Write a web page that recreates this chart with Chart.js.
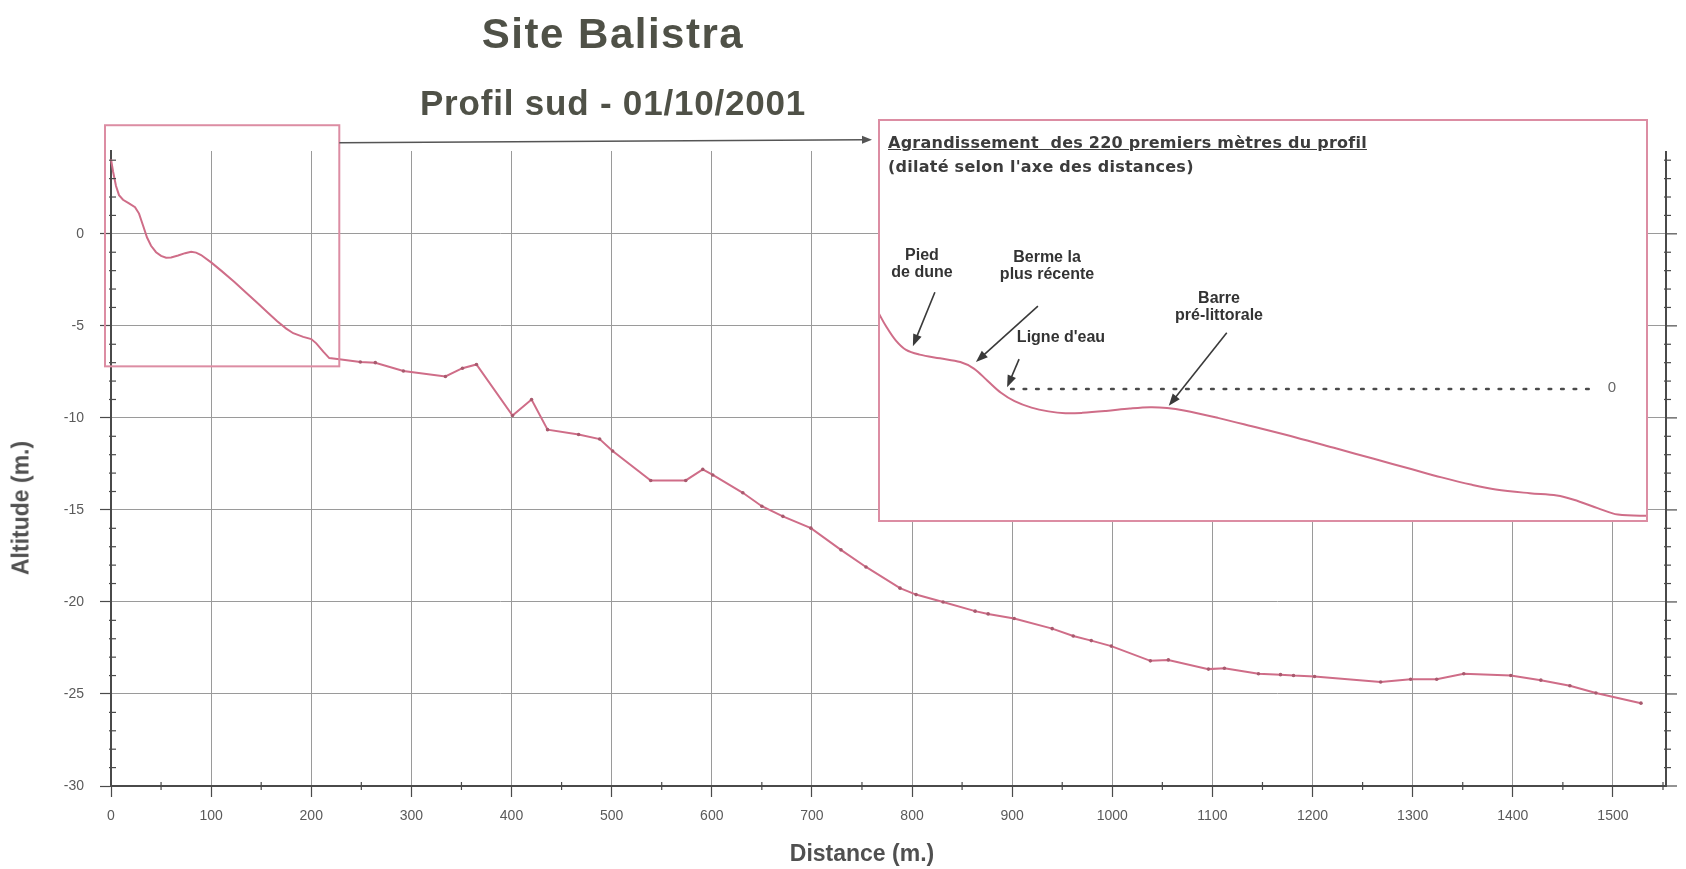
<!DOCTYPE html>
<html>
<head>
<meta charset="utf-8">
<script src="https://cdn.jsdelivr.net/npm/chart.js@4.4.1/dist/chart.umd.min.js"></script>
<style>
  html, body { margin: 0; padding: 0; background: #ffffff; }
  #wrap { position: relative; width: 1686px; height: 869px; overflow: hidden; background: #fff; }
  #main { position: absolute; left: 0; top: 0; }
  .t { position: absolute; white-space: nowrap; font-family: "Liberation Sans", Arial, sans-serif; font-weight: bold; }
  #title { left: 613px; top: 13px; font-size: 42px; line-height: 42px; letter-spacing: 1.5px; color: #4f5147; transform: translateX(-50%); }
  #subtitle { left: 613px; top: 85px; font-size: 35px; line-height: 35px; letter-spacing: 0.8px; color: #4f5147; transform: translateX(-50%); }
  #xtitle { left: 862px; top: 842px; font-size: 23px; line-height: 23px; color: #505050; transform: translateX(-50%); }
  #ytitle { left: 21px; top: 508px; font-size: 23px; line-height: 23px; color: #505050; transform: translate(-50%, -50%) rotate(-90deg); }
  #inset { position: absolute; left: 878px; top: 119px; width: 770px; height: 403px; box-sizing: border-box; border: 2px solid #dc8da3; background: #fff; }
  #insetCanvas { position: absolute; left: 0; top: 0; }
  .it { position: absolute; white-space: nowrap; font-family: "DejaVu Sans", sans-serif; font-weight: bold; font-size: 16px; line-height: 16px; color: #3c3c3c; letter-spacing: 0.25px; }
  .an { position: absolute; white-space: nowrap; font-family: "Liberation Sans", Arial, sans-serif; font-weight: bold; font-size: 16px; line-height: 17px; color: #333; text-align: center; transform: translateX(-50%); }
  #zero { position: absolute; font-family: "Liberation Sans", Arial, sans-serif; font-size: 15px; line-height: 16px; color: #666; transform: translateX(-50%); }
</style>
</head>
<body>
<div id="wrap">
  <canvas id="main" width="1686" height="869"></canvas>
  <div id="title" class="t">Site Balistra</div>
  <div id="subtitle" class="t">Profil sud - 01/10/2001</div>
  <div id="xtitle" class="t">Distance (m.)</div>
  <div id="ytitle" class="t">Altitude (m.)</div>
  <div id="inset">
    <canvas id="insetCanvas" width="766" height="399"></canvas>
    <div class="it" style="left:8px; top:14px; text-decoration: underline;">Agrandissement&nbsp; des 220 premiers mètres du profil</div>
    <div class="it" style="left:8px; top:38px;">(dilaté selon l'axe des distances)</div>
    <div class="an" style="left:42px; top:125px;">Pied<br>de dune</div>
    <div class="an" style="left:167px; top:127px;">Berme la<br>plus récente</div>
    <div class="an" style="left:181px; top:207px;">Ligne d'eau</div>
    <div class="an" style="left:339px; top:168px;">Barre<br>pré-littorale</div>
    <div id="zero" style="left:732px; top:258px;">0</div>
  </div>
</div>
<script>
const distances = [0,2,5,8,12,18,24,28,32,36,40,45,50,55,60,67,74,80,85,90,100,110,123,135,146,157,166,175,182,192,200,205,212,218,228,249,264,292,334,351,365,401,420,436,467,488,501,539,574,591,601,631,650,671,699,729,754,788,804,831,863,876,902,940,961,979,999,1038,1056,1096,1112,1146,1168,1181,1202,1268,1298,1324,1351,1398,1428,1457,1483,1528];
const altitudes = [4.05,3.4,2.6,2.1,1.85,1.65,1.45,1.1,0.45,-0.2,-0.65,-1.0,-1.2,-1.3,-1.28,-1.18,-1.05,-0.98,-1.02,-1.15,-1.55,-2.0,-2.6,-3.2,-3.75,-4.3,-4.75,-5.15,-5.4,-5.6,-5.72,-5.95,-6.4,-6.75,-6.82,-6.96,-7.0,-7.45,-7.75,-7.3,-7.1,-9.87,-9.0,-10.64,-10.9,-11.15,-11.8,-13.4,-13.4,-12.8,-13.1,-14.07,-14.8,-15.35,-15.99,-17.17,-18.1,-19.25,-19.6,-20.0,-20.5,-20.65,-20.9,-21.45,-21.85,-22.1,-22.4,-23.2,-23.15,-23.65,-23.6,-23.9,-23.95,-24.0,-24.05,-24.35,-24.2,-24.2,-23.9,-24.0,-24.25,-24.55,-24.95,-25.5];
const xRange = [0, 1553];
const yRange = [-30, 4.5];
const zoomLimit = 228;          // first metres shown in the inset
const waterLevel = [39, 210];   // extent of the dotted "0" line (distance)
const zoomBox = { x: [-6, 228], y: [-7.2, 5.9] };

const LINE = '#cf6d88';
const BOX = '#dc8da3';
const AXIS = '#4a4a4a';
const GRID = '#9a9a9a';

const points = distances.map((d, i) => ({ x: d, y: altitudes[i] }));

function arrow(ctx, x1, y1, x2, y2, head, w) {
  const a = Math.atan2(y2 - y1, x2 - x1);
  ctx.beginPath();
  ctx.moveTo(x1, y1);
  ctx.lineTo(x2 - Math.cos(a) * head * 0.8, y2 - Math.sin(a) * head * 0.8);
  ctx.stroke();
  ctx.beginPath();
  ctx.moveTo(x2, y2);
  ctx.lineTo(x2 - head * Math.cos(a) + w * Math.sin(a), y2 - head * Math.sin(a) - w * Math.cos(a));
  ctx.lineTo(x2 - head * Math.cos(a) - w * Math.sin(a), y2 - head * Math.sin(a) + w * Math.cos(a));
  ctx.closePath();
  ctx.fill();
}

const axisDecor = {
  id: 'axisDecor',
  afterDraw(chart) {
    const { ctx, chartArea: a, scales: { x, y } } = chart;
    ctx.save();
    ctx.strokeStyle = AXIS;
    ctx.lineWidth = 1.2;
    const seg = (x1, y1, x2, y2) => { ctx.beginPath(); ctx.moveTo(x1, y1); ctx.lineTo(x2, y2); ctx.stroke(); };
    for (let v = 50; v < x.max; v += 100) {
      const px = x.getPixelForValue(v);
      seg(px, a.bottom - 4, px, a.bottom + 4);
    }
    for (let v = Math.ceil(y.min); v <= Math.floor(y.max); v++) {
      if (v % 5 === 0) continue;
      const py = y.getPixelForValue(v);
      seg(a.left - 2, py, a.left + 5, py);
      seg(a.right - 2, py, a.right + 5, py);
    }
    for (let v = -30; v <= 0; v += 5) {
      const py = y.getPixelForValue(v);
      seg(a.right, py, a.right + 11, py);
    }
    ctx.lineWidth = 2;
    seg(a.right, a.top, a.right, a.bottom);
    // zoom rectangle
    const rx1 = x.getPixelForValue(zoomBox.x[0]), rx2 = x.getPixelForValue(zoomBox.x[1]);
    const ry1 = y.getPixelForValue(zoomBox.y[1]), ry2 = y.getPixelForValue(zoomBox.y[0]);
    ctx.strokeStyle = BOX;
    ctx.lineWidth = 2;
    ctx.strokeRect(rx1, ry1, rx2 - rx1, ry2 - ry1);
    // arrow to inset
    ctx.strokeStyle = '#555';
    ctx.fillStyle = '#555';
    ctx.lineWidth = 1.5;
    const ay = y.getPixelForValue(4.95);
    arrow(ctx, rx2, ay, 872, ay - 3, 10, 4);
    ctx.restore();
  }
};

new Chart(document.getElementById('main'), {
  type: 'line',
  data: {
    datasets: [{
      data: points,
      borderColor: LINE,
      borderWidth: 2,
      tension: 0,
      pointRadius: ctx => (ctx.raw && ctx.raw.x > zoomLimit ? 1.8 : 0),
      pointBackgroundColor: '#a85a6e',
      pointBorderWidth: 0,
      clip: false
    }]
  },
  options: {
    responsive: false,
    animation: false,
    layout: { padding: { left: 0, right: 20, top: 151, bottom: 0 } },
    plugins: { legend: { display: false }, tooltip: { enabled: false }, title: { display: false } },
    scales: {
      x: {
        type: 'linear',
        min: xRange[0], max: xRange[1],
        ticks: { stepSize: 100, includeBounds: false, color: '#5a5a5a', padding: 11, maxRotation: 0,
                 font: { family: 'Liberation Sans', size: 14 },
                 callback: v => String(v) },
        grid: { color: GRID, lineWidth: 1, tickLength: 11, tickColor: AXIS, tickWidth: 1.2 },
        border: { color: AXIS, width: 2 },
        afterFit: s => { s.height = 83; }
      },
      y: {
        type: 'linear',
        min: yRange[0], max: yRange[1],
        ticks: { stepSize: 5, includeBounds: false, color: '#5a5a5a', padding: 16,
                 font: { family: 'Liberation Sans', size: 14 },
                 callback: v => String(v) },
        grid: { color: GRID, lineWidth: 1, tickLength: 11, tickColor: AXIS, tickWidth: 1.2 },
        border: { color: AXIS, width: 2 },
        afterFit: s => { s.width = 111; }
      }
    }
  },
  plugins: [axisDecor]
});

// ---- Inset: first metres, dilated along the distance axis ----
const insetPoints = points.filter(p => p.x <= zoomLimit);
const insetNotes = [
  { d: 10,   alt: 2.3,   dx: 22, dy: -54 },
  { d: 28.6, alt: 1.45,  dx: 62, dy: -56 },
  { d: 37.8, alt: 0.1,   dx: 12, dy: -28 },
  { d: 85.5, alt: -0.9,  dx: 58, dy: -73 }
];
const insetArrows = {
  id: 'insetArrows',
  afterDraw(chart) {
    const { ctx, scales: { x, y } } = chart;
    ctx.save();
    ctx.strokeStyle = '#3a3a3a';
    ctx.fillStyle = '#3a3a3a';
    ctx.lineWidth = 1.6;
    insetNotes.forEach(n => {
      const tx = x.getPixelForValue(n.d), ty = y.getPixelForValue(n.alt);
      arrow(ctx, tx + n.dx, ty + n.dy, tx, ty, 12, 4.5);
    });
    ctx.restore();
  }
};

new Chart(document.getElementById('insetCanvas'), {
  type: 'line',
  data: {
    datasets: [
      { data: insetPoints, borderColor: LINE, borderWidth: 2, tension: 0.35, pointRadius: 0 },
      { data: [{ x: waterLevel[0], y: 0 }, { x: waterLevel[1], y: 0 }], borderColor: '#4a4a4a',
        borderWidth: 2.6, borderDash: [2.5, 10], borderCapStyle: 'round', pointRadius: 0 }
    ]
  },
  options: {
    responsive: false,
    animation: false,
    layout: { padding: 0 },
    plugins: { legend: { display: false }, tooltip: { enabled: false } },
    scales: {
      x: { type: 'linear', display: false, min: 0.3, max: 226.3 },
      y: { type: 'linear', display: false, min: -7.04, max: 14.41 }
    }
  },
  plugins: [insetArrows]
});
</script>
</body>
</html>
